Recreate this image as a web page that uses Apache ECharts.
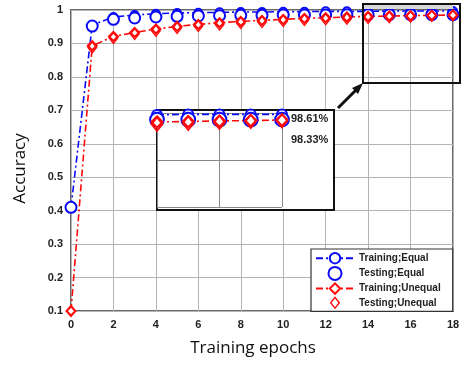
<!DOCTYPE html>
<html>
<head>
<meta charset="utf-8">
<script src="https://cdn.jsdelivr.net/npm/echarts@6/dist/echarts.min.js"></script>
<style>
  html, body { margin: 0; padding: 0; background: #fff; }
  #chart { width: 470px; height: 372px; }
</style>
</head>
<body>
<div id="chart"></div>
<script>
var epochs = [0, 1, 2, 3, 4, 5, 6, 7, 8, 9, 10, 11, 12, 13, 14, 15, 16, 17, 18];
var trainEqual = [0.41, 0.955, 0.979, 0.985, 0.989, 0.991, 0.992, 0.993, 0.994, 0.994, 0.995, 0.995, 0.996, 0.996, 0.996, 0.997, 0.997, 0.997, 0.997];
var testEqual = [0.41, 0.952, 0.972, 0.976, 0.979, 0.981, 0.982, 0.983, 0.984, 0.984, 0.985, 0.985, 0.985, 0.986, 0.986, 0.986, 0.986, 0.986, 0.9861];
var trainUnequal = [0.1, 0.893, 0.921, 0.933, 0.943, 0.951, 0.957, 0.962, 0.966, 0.969, 0.972, 0.975, 0.977, 0.979, 0.981, 0.982, 0.983, 0.984, 0.985];
var testUnequal = [0.1, 0.888, 0.916, 0.928, 0.938, 0.946, 0.952, 0.957, 0.961, 0.964, 0.967, 0.970, 0.972, 0.974, 0.976, 0.978, 0.980, 0.982, 0.9833];
var insetLabels = ['98.61%', '98.33%'];
var legendNames = ['Training;Equal', 'Testing;Equal', 'Training;Unequal', 'Testing;Unequal'];

var BLUE = '#0a0af5';
var RED = '#ff0a0a';
// hollow diamond as a path so the legend keeps its shape
var hollowDiamond = 'path://M0,-10L8,0L0,10L-8,0Z M0,-6.8L-5.2,0L0,6.8L5.2,0Z';

function pairs(vals, from) {
  var out = [];
  for (var i = from || 0; i < vals.length; i++) out.push([epochs[i], vals[i]]);
  return out;
}

function makeSeries(idx, from, scale, z, clip) {
  return [{
    name: legendNames[0], type: 'line', xAxisIndex: idx, yAxisIndex: idx, z: z,
    data: pairs(trainEqual, from), symbol: 'emptyCircle', symbolSize: 8 * scale,
    lineStyle: { color: BLUE, width: 1.6, type: [7, 3, 2, 3] },
    itemStyle: { color: BLUE, borderWidth: 2 * scale }, clip: clip
  }, {
    name: legendNames[1], type: 'scatter', xAxisIndex: idx, yAxisIndex: idx, z: z,
    data: pairs(testEqual, from), symbol: 'emptyCircle', symbolSize: 11 * scale,
    itemStyle: { color: BLUE, borderWidth: 2 * scale, opacity: 1 }, clip: clip
  }, {
    name: legendNames[2], type: 'line', xAxisIndex: idx, yAxisIndex: idx, z: z,
    data: pairs(trainUnequal, from), symbol: 'emptyDiamond', symbolSize: 9 * scale,
    lineStyle: { color: RED, width: 1.6, type: [7, 3, 2, 3] },
    itemStyle: { color: RED, borderWidth: 2 * scale }, clip: clip
  }, {
    name: legendNames[3], type: 'scatter', xAxisIndex: idx, yAxisIndex: idx, z: z,
    data: pairs(testUnequal, from), symbol: hollowDiamond, symbolKeepAspect: true,
    symbolSize: 13 * scale,
    itemStyle: { color: RED, opacity: 1 }, clip: clip
  }];
}

var chart = echarts.init(document.getElementById('chart'), null, { renderer: 'canvas' });

var tickFont = { fontFamily: 'Liberation Sans', fontWeight: 'bold', fontSize: 11, color: '#222' };

var option = {
  animation: false,
  backgroundColor: '#fff',
  grid: [
    { left: 71, right: 17, top: 10, bottom: 61, show: true, borderColor: '#6a6a6a', borderWidth: 2 },
    { left: 157, top: 113, width: 125, height: 94, show: false, z: 6 }
  ],
  xAxis: [{
    type: 'value', min: 0, max: 18, interval: 2,
    name: 'Training epochs', nameLocation: 'middle', nameGap: 29,
    nameTextStyle: { fontFamily: 'Open Sans', fontSize: 17, color: '#111', padding: [0, 18, 0, 0] },
    axisLine: { show: false }, axisTick: { show: false },
    axisLabel: Object.assign({ margin: 8 }, tickFont),
    splitLine: { lineStyle: { color: '#b4b4b4', width: 1 } }
  }, {
    type: 'value', gridIndex: 1, min: 14, max: 18, interval: 2, z: 6,
    axisLine: { show: false }, axisTick: { show: false }, axisLabel: { show: false },
    splitLine: { lineStyle: { color: '#888', width: 1 } }
  }],
  yAxis: [{
    type: 'value', min: 0.1, max: 1, interval: 0.1,
    name: 'Accuracy', nameLocation: 'middle', nameGap: 42,
    nameTextStyle: { fontFamily: 'Open Sans', fontSize: 17, color: '#111', padding: [0, 16, 0, 0] },
    axisLine: { show: false }, axisTick: { show: false },
    axisLabel: Object.assign({ margin: 8 }, tickFont),
    splitLine: { lineStyle: { color: '#b4b4b4', width: 1 } }
  }, {
    type: 'value', gridIndex: 1, min: 0.8, max: 1, interval: 0.1, z: 6,
    axisLine: { show: false }, axisTick: { show: false }, axisLabel: { show: false },
    splitLine: { lineStyle: { color: '#888', width: 1 } }
  }],
  legend: {
    data: legendNames,
    orient: 'vertical', left: 311, top: 249,
    itemWidth: 38, itemHeight: 13, itemGap: 1.5,
    padding: [3, 12, 2, 4],
    backgroundColor: '#fff', borderColor: '#333', borderWidth: 1.2,
    textStyle: { fontFamily: 'Liberation Sans', fontWeight: 'bold', fontSize: 10, color: '#222' },
    z: 12
  },
  graphic: [
    // grey strip above the plot inside the zoom box
    { type: 'rect', z: 3, shape: { x: 363, y: 4, width: 90, height: 5 },
      style: { fill: '#d8d8d8' } },
    // zoom box in the top-right corner
    { type: 'rect', z: 4, shape: { x: 363, y: 4, width: 97, height: 79 },
      style: { fill: 'rgba(0,0,0,0)', stroke: '#111', lineWidth: 2 } },
    // arrow
    { type: 'line', z: 4, shape: { x1: 338, y1: 108, x2: 357, y2: 89 },
      style: { stroke: '#111', lineWidth: 3 } },
    { type: 'polygon', z: 4, shape: { points: [[363, 83], [352, 88], [358, 94]] },
      style: { fill: '#111' } },
    // inset frame
    { type: 'rect', z: 5, shape: { x: 157, y: 110, width: 177, height: 100 },
      style: { fill: '#fff', stroke: '#111', lineWidth: 2 } },
    { type: 'text', z: 8, left: 291, top: 113,
      style: { text: insetLabels[0], font: 'bold 11px "Liberation Sans"', fill: '#222' } },
    { type: 'text', z: 8, left: 291, top: 134,
      style: { text: insetLabels[1], font: 'bold 11px "Liberation Sans"', fill: '#222' } }
  ],
  series: makeSeries(0, 0, 1, 2, false).concat(makeSeries(1, 14, 1.25, 7, true))
};

chart.setOption(option);
</script>
</body>
</html>
